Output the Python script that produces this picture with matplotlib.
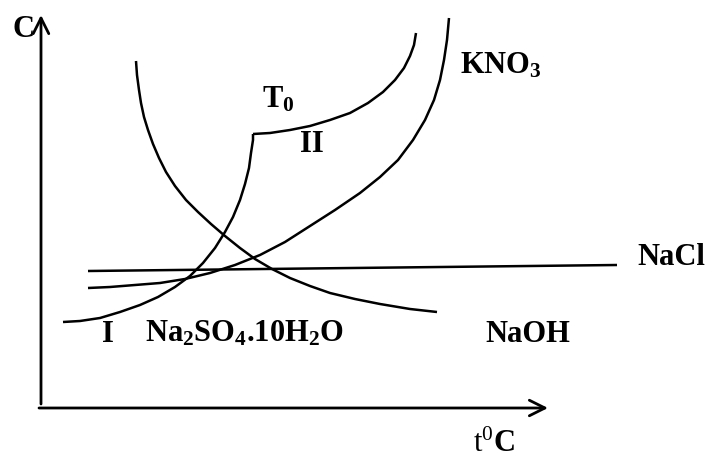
import matplotlib.pyplot as plt

plt.rcParams['font.family'] = ['Liberation Serif', 'DejaVu Serif']
plt.rcParams['mathtext.fontset'] = 'custom'
plt.rcParams['mathtext.rm'] = 'Liberation Serif'
plt.rcParams['mathtext.bf'] = 'Liberation Serif:bold'
plt.rcParams['mathtext.it'] = 'Liberation Serif:italic'

W, H = 709, 459

# curves (pixel coords, y grows downward)
nacl_x = [88, 617]
nacl_y = [271, 265]

kno3_x = [88, 110, 135, 160, 185, 210, 235, 260, 285, 310, 335, 360, 380, 398, 413, 425, 434, 440, 444, 447, 449]
kno3_y = [288, 287, 285, 283, 279, 273, 265, 255, 242, 226, 210, 193, 177, 160, 140, 120, 100, 80, 60, 40, 18]

na2so4_x = [63, 80, 100, 120, 140, 158, 175, 190, 203, 215, 225, 233, 240, 245, 249, 251, 253, 253]
na2so4_y = [322, 321, 318, 312, 305, 297, 287, 276, 263, 248, 232, 217, 200, 184, 168, 153, 140, 134]

anhydr_x = [253, 270, 290, 310, 330, 350, 368, 383, 395, 404, 410, 414, 416]
anhydr_y = [134, 133, 130, 126, 120, 113, 103, 92, 80, 68, 56, 45, 33]

naoh_x = [136, 137, 139, 141, 144, 148, 153, 159, 166, 175, 186, 198, 211, 225, 240, 255, 272, 290, 310, 330, 355, 380, 410, 437]
naoh_y = [61, 75, 90, 103, 117, 130, 144, 158, 172, 186, 200, 212, 224, 236, 248, 259, 269, 278, 286, 293, 299, 304, 309, 312]

fig = plt.figure(figsize=(W / 100, H / 100), dpi=100)
ax = fig.add_axes([0, 0, 1, 1])
ax.set_xlim(0, W)
ax.set_ylim(H, 0)
ax.axis('off')

lw = 1.8
for xs, ys in [(nacl_x, nacl_y), (kno3_x, kno3_y), (na2so4_x, na2so4_y),
               (anhydr_x, anhydr_y), (naoh_x, naoh_y)]:
    ax.plot(xs, ys, color='black', lw=lw, solid_capstyle='butt', solid_joinstyle='round')

# axes arrows
arr = dict(arrowstyle='->', lw=2, color='black', mutation_scale=28, shrinkA=0, shrinkB=0)
ax.annotate('', xy=(41, 15), xytext=(41, 404), arrowprops=arr)
ax.annotate('', xy=(548, 408), xytext=(39, 408), arrowprops=arr)

fs = 22
def lab(x, y, s, **kw):
    ax.text(x, y, s, fontsize=fs, ha='left', va='baseline', color='black', **kw)

lab(13, 37, 'C', fontweight='bold')
lab(460, 73, r'$\mathbf{KNO_3}$')
lab(262, 108, r'$\mathbf{T_0}$')
lab(300, 152, 'II', fontweight='bold')
lab(637, 265, 'NaCl', fontweight='bold')
lab(102, 342, 'I', fontweight='bold')
lab(145, 342, r'$\mathbf{Na_2SO_4.10H_2O}$')
lab(485, 342, 'NaOH', fontweight='bold')
lab(473, 452, r'$\mathrm{t}^{\mathrm{0}}\mathbf{C}$')

fig.savefig('out.png', dpi=100)
